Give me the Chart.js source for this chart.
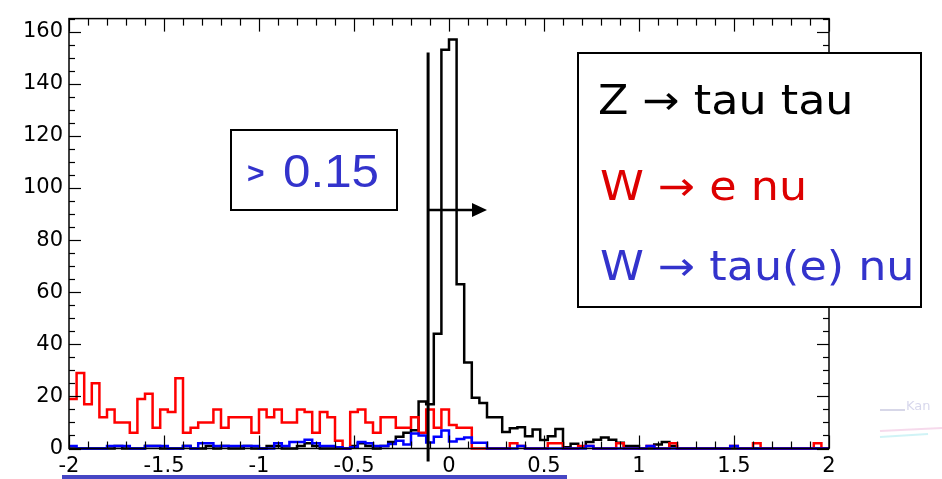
<!DOCTYPE html>
<html>
<head>
<meta charset="utf-8">
<title>tau tau selection</title>
<script src="https://cdn.jsdelivr.net/npm/chart.js@4.4.0/dist/chart.umd.min.js"></script>
<style>
  html, body { margin: 0; padding: 0; background: #fff; }
  #wrap { width: 942px; height: 479px; }
</style>
</head>
<body>
<div id="wrap"><canvas id="myChart" width="942" height="479"></canvas></div>
<script>
// binning of the histograms (100 bins between -2 and 2)
var xMin = -2, xMax = 2, nBins = 100;
var yMax = 165;
var xTicks = [-2, -1.5, -1, -0.5, 0, 0.5, 1, 1.5, 2];
var yTicks = [0, 20, 40, 60, 80, 100, 120, 140, 160];

// Z -> tau tau (black)
var zTauTau = [
    0, 0, 0, 0, 0, 0, 1, 0, 0, 0,
    1, 1, 0, 0, 0, 1, 0, 0, 1, 0,
    1, 0, 0, 1, 0, 0, 1, 1, 0, 0,
    1, 2, 1, 0, 0, 0, 0, 1, 2, 1,
    0, 1, 2.5, 4.5, 6, 7, 18, 17, 44, 153,
    157, 63, 33, 19.5, 17.5, 12, 12, 6.3, 7.8, 8.2,
    4.7, 7.3, 3.3, 4.7, 7.5, 0.5, 1.8, 0.5, 2.5, 3.4,
    4.2, 3.4, 2.2, 1, 1, 0, 0, 1.5, 2.5, 1,
    0, 0, 0, 0, 0, 0, 0, 0, 0, 0,
    0, 0, 0, 0, 0, 0, 0, 0, 0, 0
];

// W -> e nu (red)
var wENu = [
    19, 29, 17, 25, 12, 15, 10, 10, 6, 19,
    21, 8, 15, 14, 27, 6, 8, 10, 10, 15,
    8, 12, 12, 12, 6, 15, 12, 15, 10, 10,
    15, 14, 6, 14, 12, 3, 0, 14, 15, 10,
    6, 12, 12, 8, 8, 12, 6, 15, 8, 15,
    9, 8, 8, 0, 0, 0, 0, 0, 2, 1,
    0, 0, 0, 2, 2, 0, 0, 1, 1, 0,
    0, 0, 2, 0, 0, 0, 1, 0, 0, 2,
    0, 0, 0, 0, 0, 0, 0, 1, 0, 0,
    2, 0, 0, 0, 0, 0, 0, 0, 2, 0
];

// W -> tau(e) nu (blue)
var wTauNu = [
    1, 0, 0, 0, 0, 1, 1, 1, 0, 0,
    1, 1, 1, 0, 0, 1, 0, 2, 2, 1,
    1, 1, 1, 1, 1, 0, 0, 2, 1, 2.5,
    2.5, 3.4, 2, 1, 1, 0.5, 0, 0.5, 2.5, 2,
    1, 1, 1.7, 3, 1.5, 5.8, 5, 2.3, 4.5, 6.9,
    2.7, 3.6, 4.2, 2.2, 2.2, 0, 0, 0, 0, 1,
    0, 0, 0, 0, 0, 0, 0, 0, 1, 0,
    0, 0, 0, 0, 0, 0, 1, 0, 0, 0,
    0, 0, 0, 0, 0, 0, 0, 1, 0, 0,
    0, 0, 0, 0, 0, 0, 0, 0, 0, 0
];

// cut line and arrow, in data units
var cutX = -0.11, cutTop = 152, cutBottom = -5;
var arrowY = 91.5, arrowEnd = 0.2;

var legendLabels = ['Z \u2192 tau tau', 'W \u2192 e nu', 'W \u2192 tau(e) nu'];
var legendColors = ['#000000', '#dd0000', '#3333cc'];
var cutLabel = '0.15';

Chart.defaults.font.family = 'DejaVu Sans';
Chart.defaults.color = '#000';

// turn the bin contents into step points (low edge of each bin + closing point)
function toSteps(values) {
    var w = (xMax - xMin) / nBins;
    var pts = [];
    for (let i = 0; i < values.length; i++) {
        pts.push({x: xMin + i * w, y: values[i]});
    }
    pts.push({x: xMax, y: values[values.length - 1]});
    return pts;
}

function histo(label, values, color, order) {
    return {
        label: label,
        data: toSteps(values),
        borderColor: color,
        borderWidth: 2.5,
        stepped: 'before',
        pointRadius: 0,
        fill: false,
        clip: 4,
        order: order
    };
}

function line(ctx, x1, y1, x2, y2) {
    ctx.beginPath();
    ctx.moveTo(x1, y1);
    ctx.lineTo(x2, y2);
    ctx.stroke();
}

// ROOT style frame, inward ticks and the text boxes
var rootStyle = {
    id: 'rootStyle',
    afterDatasetsDraw(chart) {
        var ctx = chart.ctx, a = chart.chartArea;
        var xs = chart.scales.x, ys = chart.scales.y;
        ctx.save();

        ctx.strokeStyle = '#000';
        ctx.lineWidth = 1.5;
        ctx.strokeRect(a.left, a.top, a.right - a.left, a.bottom - a.top);

        ctx.lineWidth = 1.2;
        for (let i = 0; i <= 40; i++) {
            var px = Math.round(xs.getPixelForValue(xMin + i * 0.1)) + 0.5;
            var len = (i % 5 === 0) ? 13 : 7;
            line(ctx, px, a.bottom, px, a.bottom - len);
            line(ctx, px, a.top, px, a.top + len);
        }
        for (let v = 0; v <= yMax; v += 5) {
            var py = Math.round(ys.getPixelForValue(v)) + 0.5;
            var l2 = (v % 20 === 0) ? 12 : 6;
            line(ctx, a.left, py, a.left + l2, py);
            line(ctx, a.right, py, a.right - l2, py);
        }

        // cut line with arrow
        var cx = xs.getPixelForValue(cutX);
        ctx.lineWidth = 3;
        line(ctx, cx, ys.getPixelForValue(cutTop), cx, ys.getPixelForValue(cutBottom));
        var ay = ys.getPixelForValue(arrowY);
        var ax = xs.getPixelForValue(arrowEnd);
        ctx.lineWidth = 2.5;
        line(ctx, cx, ay, ax - 12, ay);
        ctx.fillStyle = '#000';
        ctx.beginPath();
        ctx.moveTo(ax, ay);
        ctx.lineTo(ax - 15, ay - 7);
        ctx.lineTo(ax - 15, ay + 7);
        ctx.closePath();
        ctx.fill();

        // "> 0.15" box
        ctx.fillStyle = '#fff';
        ctx.fillRect(231, 130, 166, 80);
        ctx.lineWidth = 2;
        ctx.strokeRect(231, 130, 166, 80);
        ctx.fillStyle = '#3333cc';
        ctx.textBaseline = 'alphabetic';
        ctx.textAlign = 'left';
        ctx.font = 'bold 30px "Liberation Sans"';
        ctx.fillText('>', 247, 183);
        ctx.save();
        ctx.translate(283, 187);
        ctx.scale(1.05, 1);
        ctx.font = '47px "Liberation Sans"';
        ctx.fillText(cutLabel, 0, 0);
        ctx.restore();

        // legend box
        ctx.fillStyle = '#fff';
        ctx.fillRect(578, 53, 343, 254);
        ctx.strokeStyle = '#000';
        ctx.lineWidth = 2;
        ctx.strokeRect(578, 53, 343, 254);
        ctx.font = '40px "DejaVu Sans"';
        var rows = [114, 200, 280];
        for (let i = 0; i < legendLabels.length; i++) {
            ctx.save();
            ctx.translate(i === 0 ? 598 : 600, rows[i]);
            ctx.scale(1.11, 1);
            ctx.fillStyle = legendColors[i];
            ctx.fillText(legendLabels[i], 0, 0);
            ctx.restore();
        }

        // slide underline and faint logo on the right
        ctx.fillStyle = '#4646c4';
        ctx.fillRect(62, 475, 505, 4);
        ctx.strokeStyle = 'rgba(140,140,190,0.35)';
        ctx.lineWidth = 2;
        line(ctx, 880, 410, 905, 410);
        ctx.strokeStyle = 'rgba(230,150,200,0.35)';
        line(ctx, 880, 431, 942, 428);
        ctx.strokeStyle = 'rgba(120,220,230,0.35)';
        line(ctx, 880, 437, 928, 434);
        ctx.fillStyle = 'rgba(140,140,200,0.35)';
        ctx.font = '13px "DejaVu Sans"';
        ctx.fillText('Kan', 906, 410);

        ctx.restore();
    }
};

var ctx = document.getElementById('myChart').getContext('2d');
var myChart = new Chart(ctx, {
    type: 'line',
    data: {
        datasets: [
            histo(legendLabels[2], wTauNu, '#0000ff', 1),
            histo(legendLabels[1], wENu, '#ff0000', 2),
            histo(legendLabels[0], zTauTau, '#000000', 3)
        ]
    },
    options: {
        responsive: false,
        devicePixelRatio: 1,
        animation: false,
        layout: { padding: { left: 0, right: 113, top: 8, bottom: 0 } },
        plugins: { legend: { display: false }, tooltip: { enabled: false } },
        scales: {
            x: {
                type: 'linear',
                min: xMin,
                max: xMax,
                afterBuildTicks: (s) => { s.ticks = xTicks.map((v) => ({value: v})); },
                afterFit: (s) => { s.height = 30.5; },
                ticks: {
                    font: { size: 21 },
                    color: '#000',
                    padding: 5,
                    maxRotation: 0,
                    autoSkip: false,
                    callback: (v) => String(Math.round(v * 10) / 10)
                },
                grid: { display: false, drawTicks: false },
                border: { display: false }
            },
            y: {
                min: 0,
                max: yMax,
                afterBuildTicks: (s) => { s.ticks = yTicks.map((v) => ({value: v})); },
                afterFit: (s) => { s.width = 69; },
                ticks: {
                    font: { size: 21 },
                    color: '#000',
                    padding: 6,
                    callback: (v) => String(v)
                },
                grid: { display: false, drawTicks: false },
                border: { display: false }
            }
        }
    },
    plugins: [rootStyle]
});
</script>
</body>
</html>
